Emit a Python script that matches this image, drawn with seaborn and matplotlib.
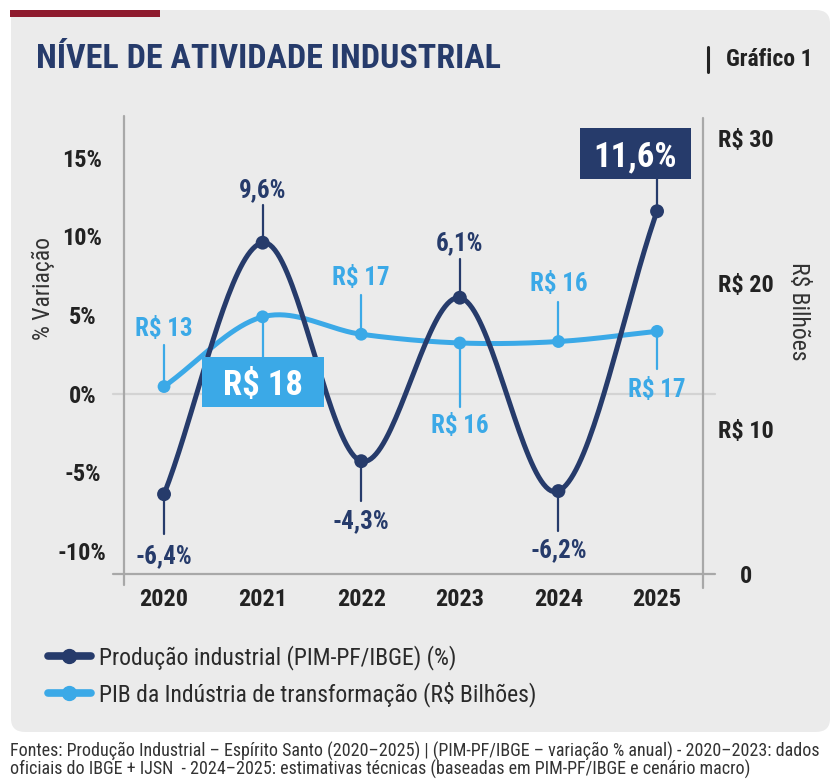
import numpy as np
import pandas as pd
import matplotlib
matplotlib.use("Agg")
import matplotlib.pyplot as plt
import seaborn as sns
from matplotlib import font_manager as fm
from matplotlib.patches import FancyBboxPatch, Rectangle
from matplotlib.lines import Line2D
from matplotlib.transforms import Affine2D, ScaledTranslation, blended_transform_factory

# ---------------- data ----------------
years = ["2020", "2021", "2022", "2023", "2024", "2025"]
producao = [-6.4, 9.6, -4.3, 6.1, -6.2, 11.6]
producao_labels = ["-6,4%", "9,6%", "-4,3%", "6,1%", "-6,2%", "11,6%"]
pib = [12.9, 17.7, 16.5, 15.9, 16.0, 16.7]
pib_labels = ["R$ 13", "R$ 18", "R$ 17", "R$ 16", "R$ 16", "R$ 17"]
left_ticks = [-10, -5, 0, 5, 10, 15]
left_tick_labels = ["-10%", "-5%", "0%", "5%", "10%", "15%"]
right_ticks = [0, 10, 20, 30]
right_tick_labels = ["0", "R$ 10", "R$ 20", "R$ 30"]
series_names = ["Produção industrial (PIM-PF/IBGE) (%)",
                "PIB da Indústria de transformação (R$ Bilhões)"]
title = "NÍVEL DE ATIVIDADE INDUSTRIAL"
badge = "Gráfico 1"
footer = ["Fontes: Produção Industrial – Espírito Santo (2020–2025) | (PIM-PF/IBGE – variação % anual) - 2020–2023: dados",
          "oficiais do IBGE + IJSN  - 2024–2025: estimativas técnicas (baseadas em PIM-PF/IBGE e cenário macro)"]

# ---------------- style ----------------
NAVY = "#263B6B"
BLUE = "#3BA9E7"
RED = "#8E1B2E"
PANEL = "#EBEBEB"
DARK = "#222222"
GRID = "#D3D3D3"
SPINE = "#A8A8A8"

sns.set_theme(style="white")
avail = {f.name for f in fm.fontManager.ttflist}
COND = "Roboto Condensed" if "Roboto Condensed" in avail else "Roboto"
plt.rcParams["font.family"] = [COND, "DejaVu Sans"]

W, H = 839, 783
fig = plt.figure(figsize=(W / 100, H / 100), dpi=100, facecolor="white")


def fx(x):
    return x / W


def fy(y):
    return 1 - y / H


# panel background
panel = FancyBboxPatch((fx(11), fy(732)), fx(830) - fx(11), fy(10) - fy(732),
                       boxstyle="round,pad=0,rounding_size=0.017",
                       transform=fig.transFigure, facecolor=PANEL, edgecolor="none", zorder=-10)
fig.add_artist(panel)
fig.add_artist(Rectangle((fx(11), fy(45)), fx(45) - fx(11), fy(10) - fy(45),
                         transform=fig.transFigure, facecolor=PANEL, edgecolor="none", zorder=-9))
fig.add_artist(Rectangle((fx(10), fy(17)), fx(160) - fx(10), fy(10) - fy(17),
                         transform=fig.transFigure, facecolor=RED, edgecolor="none", zorder=-8))

# title and badge
fig.text(fx(36), fy(58.5), title, fontsize=24.5, fontweight="heavy", color=NAVY,
         ha="left", va="center")
fig.add_artist(Line2D([fx(708), fx(708)], [fy(47), fy(72)], transform=fig.transFigure,
                      color=DARK, lw=2.2))
fig.text(fx(726), fy(60), badge, fontsize=17, fontweight="bold", color=DARK,
         ha="left", va="center")

# ---------------- axes ----------------
ax = fig.add_axes([fx(124), fy(574), fx(703) - fx(124), fy(116) - fy(574)])
ax2 = ax.twinx()
ax2.set_zorder(1)
ax.set_zorder(2)
for a in (ax, ax2):
    a.patch.set_visible(False)
    for s in a.spines.values():
        s.set_visible(False)
    a.grid(False)

xs = np.arange(len(years), dtype=float)
ax.set_xlim(-0.406, 5.466)
ax.set_ylim(-(574 - 393.6) / 15.72, (393.6 - 116) / 15.72)
ax2.set_ylim(0, 458 / 14.53)


def smooth(x, y, n=40):
    x = np.asarray(x, float)
    y = np.asarray(y, float)
    k = len(x)
    m = np.empty(k)
    m[1:-1] = (y[2:] - y[:-2]) / (x[2:] - x[:-2])
    m[0] = (y[1] - y[0]) / (x[1] - x[0])
    m[-1] = (y[-1] - y[-2]) / (x[-1] - x[-2])
    ox, oy = [], []
    for i in range(k - 1):
        h = x[i + 1] - x[i]
        t = np.linspace(0, 1, n, endpoint=(i == k - 2))
        h00 = 2 * t**3 - 3 * t**2 + 1
        h10 = t**3 - 2 * t**2 + t
        h01 = -2 * t**3 + 3 * t**2
        h11 = t**3 - t**2
        ox.append(x[i] + t * h)
        oy.append(h00 * y[i] + h10 * h * m[i] + h01 * y[i + 1] + h11 * h * m[i + 1])
    return np.concatenate(ox), np.concatenate(oy)


sx, sy = smooth(xs, producao)
bx, by = smooth(xs, pib)
df_prod = pd.DataFrame({"x": sx, "y": sy})
df_pib = pd.DataFrame({"x": bx, "y": by})

# background lines (on lower axes)
ax2.add_line(Line2D([-0.019, 1.021], [0, 0],
                    transform=blended_transform_factory(ax.transAxes, ax.transData),
                    color=GRID, lw=1.6, clip_on=False, zorder=0.5))
ax2.add_line(Line2D([-0.019, 1.021], [0, 0], transform=ax.transAxes, color=SPINE, lw=1.6,
                    clip_on=False, zorder=0.6))
ax2.add_line(Line2D([0, 0], [-0.024, 1], transform=ax.transAxes, color=SPINE, lw=1.6,
                    clip_on=False, zorder=0.6))
ax2.add_line(Line2D([1, 1], [-0.03, 0.996], transform=ax.transAxes, color=SPINE, lw=1.6,
                    clip_on=False, zorder=0.6))

sns.lineplot(data=df_pib, x="x", y="y", ax=ax2, color=BLUE, lw=3.6, sort=False,
             estimator=None, zorder=2, legend=False)
sns.scatterplot(x=xs, y=pib, ax=ax2, color=BLUE, s=85, edgecolor="none", zorder=3, legend=False)
sns.lineplot(data=df_prod, x="x", y="y", ax=ax, color=NAVY, lw=3.6, sort=False,
             estimator=None, zorder=2, legend=False)
sns.scatterplot(x=xs, y=producao, ax=ax, color=NAVY, s=100, edgecolor="none", zorder=3, legend=False)

# ticks
ax.set_xticks(xs)
ax.set_xticklabels(years)
ax.set_yticks(left_ticks)
ax.set_yticklabels(left_tick_labels)
ax2.set_yticks(right_ticks)
ax2.set_yticklabels(right_tick_labels)
ax.tick_params(axis="x", length=0, pad=10, labelsize=17.5, labelcolor=DARK)
ax.tick_params(axis="y", length=0, pad=30, labelsize=17.5, labelcolor=DARK)
ax2.tick_params(axis="y", length=0, pad=31, labelsize=17.5, labelcolor=DARK)
for lab in ax.get_xticklabels() + ax.get_yticklabels() + ax2.get_yticklabels():
    lab.set_fontweight("bold")
for lab in ax.get_yticklabels() + ax2.get_yticklabels():
    lab.set_ha("center")
ax.set_xlabel("")
ax.set_ylabel("")
ax2.set_ylabel("")

fig.text(fx(43), fy(288), "% Variação", rotation=90, fontsize=17, color="#333333",
         ha="center", va="center")
fig.text(fx(799), fy(311), "R$ Bilhões", rotation=-90, fontsize=17, color="#333333",
         ha="center", va="center")


# ---------------- annotations ----------------
def anchor(trans, x, y, dx=0, dy=0):
    return Affine2D().translate(dx, dy) + ScaledTranslation(x, y, trans)


def annotate(trans, x, y, text, color, stem_len, text_off, boxed=None, size=18, box_dx=0):
    # stem (pixel lengths, positive = upward)
    fig.add_artist(Line2D([0, 0], [0, stem_len], transform=anchor(trans, x, y),
                          color=color, lw=1.6, zorder=8))
    if boxed is not None:
        bw, bh = boxed
        fig.add_artist(Rectangle((box_dx - bw / 2, text_off - bh / 2), bw, bh,
                                 transform=anchor(trans, x, y), facecolor=color,
                                 edgecolor="none", zorder=9))
        fig.text(0, 0, text, transform=anchor(trans, x, y, box_dx, text_off), fontsize=size,
                 fontweight="bold", color="white", ha="center", va="center_baseline", zorder=10)
    else:
        fig.text(0, 0, text, transform=anchor(trans, x, y, 0, text_off), fontsize=size,
                 fontweight="bold", color=color, ha="center", va="center_baseline", zorder=10)


# navy: (stem, text offset) in pixels
prod_pos = [(-40, -59), (38, 55), (-40, -57), (39, 57), (-40, -57), (32, 57.5)]
for i, (v, lab) in enumerate(zip(producao, producao_labels)):
    st, to = prod_pos[i]
    if i == len(producao) - 1:
        annotate(ax.transData, xs[i], v, lab, NAVY, st, to, boxed=(111, 51), size=25,
                 box_dx=-22)
    else:
        annotate(ax.transData, xs[i], v, lab, NAVY, st, to)

pib_pos = [(42, 60), (-40, -65), (39, 59), (-64, -81), (40, 60), (-38, -56)]
for i, (v, lab) in enumerate(zip(pib, pib_labels)):
    st, to = pib_pos[i]
    if i == 1:
        annotate(ax2.transData, xs[i], v, lab, BLUE, st, to, boxed=(122, 50), size=25)
    else:
        annotate(ax2.transData, xs[i], v, lab, BLUE, st, to)

# ---------------- legend ----------------
handles = [Line2D([], [], color=NAVY, lw=5.5, marker="o", ms=10),
           Line2D([], [], color=BLUE, lw=5.5, marker="o", ms=10)]
fig.legend(handles, series_names, loc="center left", bbox_to_anchor=(fx(48), fy(676)),
           bbox_transform=fig.transFigure, frameon=False, fontsize=17, handlelength=1.82,
           handletextpad=0.34, labelspacing=0.5, borderpad=0, borderaxespad=0,
           labelcolor="#2A2A2A")

# ---------------- footer ----------------
fig.text(fx(10), fy(757), footer[0], fontsize=13, color="#333333", ha="left", va="baseline")
fig.text(fx(10), fy(775), footer[1], fontsize=13, color="#333333", ha="left", va="baseline")

fig.savefig("out.png", dpi=100, facecolor="white")
